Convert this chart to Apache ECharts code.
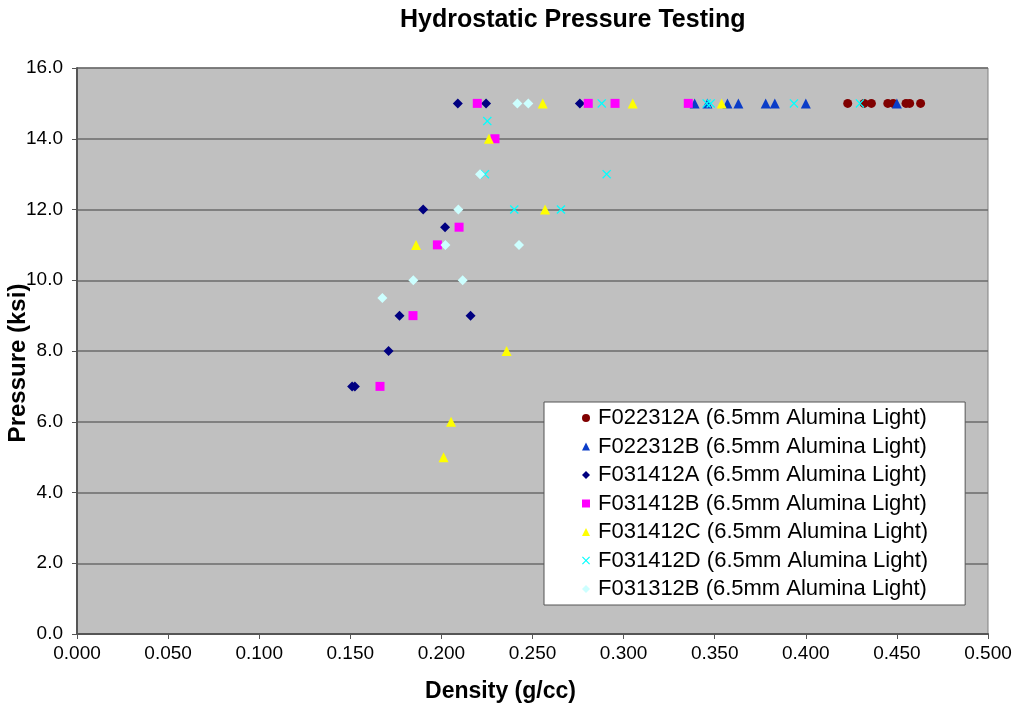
<!DOCTYPE html>
<html>
<head>
<meta charset="utf-8">
<script src="https://cdn.jsdelivr.net/npm/echarts@6/dist/echarts.min.js"></script>
<style>
  html, body { margin: 0; padding: 0; background: #fff; }
  #chart { width: 1017px; height: 705px; }
</style>
</head>
<body>
<div id="chart"></div>
<script>
// density (g/cc) and pressure (ksi), one pair of arrays per sample
const f022312aDensity = [0.423, 0.432, 0.436, 0.445, 0.448, 0.455, 0.457, 0.463];
const f022312aPressure = [15, 15, 15, 15, 15, 15, 15, 15];

const f022312bDensity = [0.339, 0.346, 0.357, 0.363, 0.378, 0.383, 0.400, 0.450];
const f022312bPressure = [15, 15, 15, 15, 15, 15, 15, 15];

const f031412aDensity = [0.209, 0.2245, 0.276, 0.190, 0.202, 0.177, 0.216, 0.171, 0.151, 0.1525];
const f031412aPressure = [15, 15, 15, 12, 11.5, 9, 9, 8, 7, 7];

const f031412bDensity = [0.2197, 0.2806, 0.2953, 0.3355, 0.2294, 0.2097, 0.1978, 0.1844, 0.1663];
const f031412bPressure = [15, 15, 15, 15, 14, 11.5, 11, 9, 7];

const f031412cDensity = [0.2556, 0.305, 0.3538, 0.2261, 0.2569, 0.1861, 0.2358, 0.2053, 0.2012];
const f031412cPressure = [15, 15, 15, 14, 12, 11, 8, 6, 5];

const f031412dDensity = [0.288, 0.3456, 0.3478, 0.3935, 0.4297, 0.2252, 0.2239, 0.2907, 0.240, 0.2656];
const f031412dPressure = [15, 15, 15, 15, 15, 14.5, 13, 13, 12, 12];

const f031312bDensity = [0.2417, 0.2477, 0.2212, 0.2093, 0.2022, 0.2426, 0.1846, 0.2117, 0.1676];
const f031312bPressure = [15, 15, 13, 12, 11, 11, 10, 10, 9.5];

const seriesNames = [
  'F022312A (6.5mm Alumina Light)',
  'F022312B (6.5mm Alumina Light)',
  'F031412A (6.5mm Alumina Light)',
  'F031412B (6.5mm Alumina Light)',
  'F031412C (6.5mm Alumina Light)',
  'F031412D (6.5mm Alumina Light)',
  'F031312B (6.5mm Alumina Light)'
];

const crossPath = 'path://M0,1L1,0L5,4L9,0L10,1L6,5L10,9L9,10L5,6L1,10L0,9L4,5Z';

function pairs(xs, ys) {
  return xs.map((x, i) => [x, ys[i]]);
}

const chart = echarts.init(document.getElementById('chart'));

const styles = [
  { symbol: 'circle', size: 9, color: '#800000' },
  { symbol: 'triangle', size: 10, color: '#0a3cc8' },
  { symbol: 'diamond', size: 10, color: '#000080' },
  { symbol: 'rect', size: 9, color: '#ff00ff' },
  { symbol: 'triangle', size: 10, color: '#ffff00' },
  { symbol: crossPath, size: 9, color: '#00ffff' },
  { symbol: 'diamond', size: 10, color: '#ccffff' }
];

const seriesData = [
  pairs(f022312aDensity, f022312aPressure),
  pairs(f022312bDensity, f022312bPressure),
  pairs(f031412aDensity, f031412aPressure),
  pairs(f031412bDensity, f031412bPressure),
  pairs(f031412cDensity, f031412cPressure),
  pairs(f031412dDensity, f031412dPressure),
  pairs(f031312bDensity, f031312bPressure)
];

const series = seriesNames.map((name, i) => ({
  name: name,
  type: 'scatter',
  symbol: styles[i].symbol,
  symbolSize: styles[i].size,
  itemStyle: { color: styles[i].color, opacity: 1 },
  animation: false,
  data: seriesData[i]
}));

const font = 'Liberation Sans, Arial, sans-serif';

chart.setOption({
  backgroundColor: '#ffffff',
  textStyle: { fontFamily: font },
  title: {
    text: 'Hydrostatic Pressure Testing',
    left: 395,
    top: 3,
    textStyle: {
      fontFamily: font,
      fontSize: 25,
      fontWeight: 'bold',
      color: '#000'
    }
  },
  grid: {
    left: 77,
    right: 29,
    top: 68,
    bottom: 71,
    outerBoundsMode: 'none',
    containLabel: false,
    show: true,
    backgroundColor: '#c0c0c0',
    borderColor: '#808080',
    borderWidth: 1
  },
  legend: {
    orient: 'vertical',
    left: 544,
    top: 402,
    padding: [5, 37, 5, 38],
    backgroundColor: '#ffffff',
    borderColor: '#555',
    borderWidth: 1,
    itemWidth: 8,
    itemHeight: 8,
    itemGap: 6.5,
    selectedMode: false,
    textStyle: {
      fontFamily: font,
      fontSize: 22,
      lineHeight: 22,
      color: '#000',
      padding: [0, 0, 0, 3]
    }
  },
  xAxis: {
    type: 'value',
    min: 0,
    max: 0.5,
    interval: 0.05,
    name: 'Density (g/cc)',
    nameLocation: 'middle',
    nameGap: 46,
    nameMoveOverlap: false,
    nameTextStyle: {
      fontFamily: font,
      fontSize: 23,
      fontWeight: 'bold',
      color: '#000',
      padding: [0, 64, 0, 0]
    },
    axisLine: { show: true, lineStyle: { color: '#555', width: 2 } },
    axisTick: { show: true, length: 5, lineStyle: { color: '#555' } },
    axisLabel: {
      fontSize: 19,
      color: '#000',
      margin: 10,
      formatter: (v) => v.toFixed(3)
    },
    splitLine: { show: false }
  },
  yAxis: {
    type: 'value',
    min: 0,
    max: 16,
    interval: 2,
    name: 'Pressure (ksi)',
    nameLocation: 'middle',
    nameGap: 47,
    nameMoveOverlap: false,
    nameRotate: 90,
    nameTextStyle: {
      fontFamily: font,
      fontSize: 24,
      fontWeight: 'bold',
      color: '#000',
      padding: [0, 24, 0, 0]
    },
    axisLine: { show: true, lineStyle: { color: '#555', width: 2 } },
    axisTick: { show: true, length: 5, lineStyle: { color: '#555' } },
    axisLabel: {
      fontSize: 19,
      color: '#000',
      margin: 14,
      formatter: (v) => v.toFixed(1)
    },
    splitLine: { show: true, lineStyle: { color: '#6b6b6b', width: 1.5 } }
  },
  series: series
});
</script>
</body>
</html>
